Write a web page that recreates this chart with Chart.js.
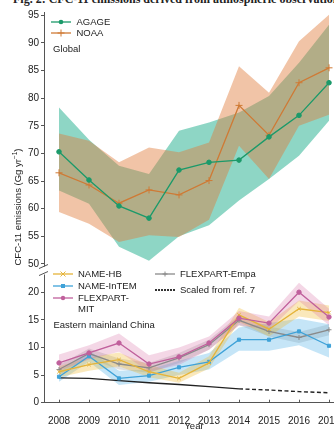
<!DOCTYPE html>
<html>
<head>
<meta charset="utf-8">
<script src="https://cdn.jsdelivr.net/npm/chart.js@4.4.0/dist/chart.umd.min.js"></script>
<style>
  html, body { margin: 0; padding: 0; background: #fff; overflow: hidden; }
  body { width: 334px; height: 431px; position: relative; font-family: 'Liberation Sans', Arial, sans-serif; color: #222; }
  #wrap { position: absolute; left: 0; top: 0; width: 350px; height: 431px; }
  #figtitle { position: absolute; left: 13px; top: -7px; font: bold 12px 'Liberation Serif', serif; line-height: 12px; white-space: nowrap; color: #222; }
  #ytitle { position: absolute; left: 16.5px; top: 207px; transform: translate(-50%, -50%) rotate(-90deg); font-size: 9.5px; white-space: nowrap; }
  #ytitle sup { font-size: 6.5px; }
  .lbl { position: absolute; font-size: 9.5px; line-height: 1; white-space: nowrap; transform: translateY(-50%); }
  .sym { position: absolute; width: 20px; height: 8px; transform: translateY(-50%); }
</style>
</head>
<body>
<div id="figtitle">Fig. 2: CFC-11 emissions derived from atmospheric observations.</div>
<div id="wrap"><canvas id="chart" width="350" height="431"></canvas></div>
<div id="ytitle">CFC-11 emissions (Gg yr<sup>−1</sup>)</div>

<!-- global legend -->
<svg class="sym" style="left:51px;top:22.3px" viewBox="0 0 20 8"><line x1="0" y1="4" x2="20" y2="4" stroke="#1b9a6a" stroke-width="1.3"/><circle cx="10" cy="4" r="2.3" fill="#1b9a6a"/></svg>
<div class="lbl" style="left:76.5px;top:22.3px">AGAGE</div>
<svg class="sym" style="left:51px;top:33.3px" viewBox="0 0 20 8"><line x1="0" y1="4" x2="20" y2="4" stroke="#cf7a35" stroke-width="1.3"/><path d="M6.5 4H13.5M10 0.5V7.5" stroke="#cf7a35" stroke-width="1"/></svg>
<div class="lbl" style="left:76.5px;top:33.3px">NOAA</div>
<div class="lbl" style="left:53px;top:48.5px">Global</div>

<!-- china legend -->
<svg class="sym" style="left:53px;top:274px" viewBox="0 0 20 8"><line x1="0" y1="4" x2="20" y2="4" stroke="#e5b43a" stroke-width="1.3"/><path d="M7.5 1.5L12.5 6.5M12.5 1.5L7.5 6.5" stroke="#e5b43a" stroke-width="1"/></svg>
<div class="lbl" style="left:78px;top:274px">NAME-HB</div>
<svg class="sym" style="left:53px;top:285.5px" viewBox="0 0 20 8"><line x1="0" y1="4" x2="20" y2="4" stroke="#3fa2d8" stroke-width="1.3"/><rect x="8" y="2" width="4" height="4" fill="#3fa2d8"/></svg>
<div class="lbl" style="left:78px;top:285.5px">NAME-InTEM</div>
<svg class="sym" style="left:53px;top:298px" viewBox="0 0 20 8"><line x1="0" y1="4" x2="20" y2="4" stroke="#c0609c" stroke-width="1.3"/><circle cx="10" cy="4" r="2.2" fill="#c0609c"/></svg>
<div class="lbl" style="left:78px;top:298px">FLEXPART-</div>
<div class="lbl" style="left:78px;top:309.3px">MIT</div>
<svg class="sym" style="left:155px;top:274px" viewBox="0 0 20 8"><line x1="0" y1="4" x2="20" y2="4" stroke="#8a8a8a" stroke-width="1.3"/><path d="M7.5 4H12.5M10 1.5V6.5" stroke="#8a8a8a" stroke-width="1"/></svg>
<div class="lbl" style="left:180px;top:274px">FLEXPART-Empa</div>
<svg class="sym" style="left:155px;top:290px" viewBox="0 0 20 8"><line x1="0" y1="4" x2="20" y2="4" stroke="#333" stroke-width="2" stroke-dasharray="2 1"/></svg>
<div class="lbl" style="left:180px;top:290px">Scaled from ref. 7</div>
<div class="lbl" style="left:53.5px;top:325px">Eastern mainland China</div>

<script>
const years = ['2008', '2009', '2010', '2011', '2012', '2013', '2014', '2015', '2016', '2017'];
const topTicks = [50, 55, 60, 65, 70, 75, 80, 85, 90, 95];
const bottomTicks = [0, 5, 10, 15, 20];

// global emissions
const agage   = [70.3, 65.2, 60.5, 58.3, 67.0, 68.4, 68.8, 73.0, 76.9, 82.8];
const agageHi = [78.3, 72.5, 67.8, 66.3, 74.1, 75.6, 77.4, 80.4, 86.4, 93.3];
const agageLo = [63.3, 60.9, 53.1, 50.6, 55.0, 57.0, 61.5, 65.4, 69.6, 75.9];
const noaa    = [66.5, 64.3, 61.0, 63.4, 62.5, 65.1, 78.7, 73.3, 82.8, 85.5];
const noaaHi  = [73.6, 72.3, 68.4, 71.1, 70.2, 72.0, 85.8, 81.0, 90.3, 95.1];
const noaaLo  = [59.4, 57.3, 54.0, 55.2, 54.9, 58.0, 71.4, 65.4, 75.0, 77.0];

// eastern mainland China
const nameHB     = [5.6, 6.9, 7.8, 5.6, 4.4, 7.2, 15.9, 13.3, 17.0, 16.3];
const nameHBHi   = [6.6, 8.2, 9.1, 6.8, 5.4, 8.4, 17.2, 14.6, 18.5, 17.6];
const nameHBLo   = [4.6, 5.8, 6.6, 4.6, 3.6, 6.2, 14.6, 12.0, 15.6, 14.8];
const intem      = [4.7, 8.4, 4.4, 4.9, 6.4, 7.4, 11.4, 11.4, 12.9, 10.3];
const intemHi    = [5.6, 9.4, 5.8, 6.0, 7.6, 9.0, 13.6, 14.4, 15.2, 14.2];
const intemLo    = [3.8, 7.4, 3.2, 3.8, 5.0, 6.0, 9.4, 9.4, 10.4, 8.2];
const mit        = [7.2, 9.0, 10.8, 7.0, 8.3, 10.8, 15.3, 14.4, 20.0, 15.5];
const mitHi      = [8.7, 10.4, 12.5, 8.6, 10.0, 12.0, 16.6, 15.6, 21.7, 17.0];
const mitLo      = [5.8, 7.8, 9.2, 5.6, 6.8, 9.6, 14.0, 13.2, 18.4, 14.0];
const empa       = [6.0, 8.9, 7.0, 6.3, 8.1, 10.5, 14.9, 12.9, 11.8, 13.2];
const empaHi     = [6.8, 9.8, 8.0, 7.2, 9.0, 11.4, 15.8, 13.8, 12.8, 14.2];
const empaLo     = [5.0, 8.0, 6.0, 5.4, 7.2, 9.6, 14.0, 12.0, 10.8, 12.2];
const scaledRef7 = [4.5, 4.4, 4.0, 3.6, 3.3, 2.9, 2.5, 2.3, 2.0, 1.8];

Chart.defaults.font.family = "'Liberation Sans', Arial, sans-serif";
Chart.defaults.font.size = 10;
Chart.defaults.color = '#222';

function line(data, color, style, radius, axis) {
  return {
    data, yAxisID: axis, borderColor: color, backgroundColor: color,
    borderWidth: 1.3, pointStyle: style, pointRadius: radius,
    pointBorderWidth: 1, pointHoverRadius: radius, fill: false
  };
}

function band(hi, lo, color, axis) {
  return [
    { data: hi, yAxisID: axis, borderWidth: 0, pointRadius: 0, backgroundColor: color, fill: '+1' },
    { data: lo, yAxisID: axis, borderWidth: 0, pointRadius: 0, fill: false }
  ];
}

const extras = {
  id: 'extras',
  afterDraw(chart) {
    const { ctx, scales: { x, yTop } } = chart;
    ctx.save();
    ctx.strokeStyle = '#555';
    ctx.lineWidth = 1;
    // small inward ticks on the year axis
    years.forEach((_, i) => {
      const px = Math.round(x.getPixelForValue(i)) + 0.5;
      ctx.beginPath();
      ctx.moveTo(px, x.top);
      ctx.lineTo(px, x.top - 3);
      ctx.stroke();
    });
    // axis break marks
    const xb = yTop.right, yb = yTop.bottom;
    ctx.fillStyle = '#fff';
    ctx.fillRect(xb - 2, yb - 3, 4, 8);
    ctx.beginPath();
    ctx.moveTo(xb - 5, yb - 1); ctx.lineTo(xb + 4, yb - 5);
    ctx.moveTo(xb - 5, yb + 6); ctx.lineTo(xb + 4, yb + 2);
    ctx.stroke();
    ctx.restore();
  }
};

const yCommon = {
  type: 'linear', position: 'left', stack: 'y',
  grid: { drawOnChartArea: false, tickLength: 3, color: '#555' },
  border: { color: '#555' },
  ticks: { padding: 2, font: { size: 10 } },
  afterFit: s => { s.width = 44; }
};

new Chart(document.getElementById('chart'), {
  type: 'line',
  data: {
    labels: years,
    datasets: [
      line(agage, '#1b9a6a', 'circle', 2.3, 'yTop'),
      line(noaa, '#cf7a35', 'cross', 3.5, 'yTop'),
      line(mit, '#c0609c', 'circle', 2.2, 'yBot'),
      line(nameHB, '#e5b43a', 'crossRot', 2.5, 'yBot'),
      line(intem, '#3fa2d8', 'rect', 2.2, 'yBot'),
      line(empa, '#8a8a8a', 'cross', 2.5, 'yBot'),
      Object.assign(line(scaledRef7, '#222', 'circle', 0, 'yBot'), {
        borderWidth: 1.4,
        segment: { borderDash: c => (c.p0DataIndex >= 6 ? [4, 2.5] : undefined) }
      }),
      ...band(noaaHi, noaaLo, 'rgba(225,125,60,0.45)', 'yTop'),
      ...band(agageHi, agageLo, 'rgba(50,180,150,0.55)', 'yTop'),
      ...band(mitHi, mitLo, 'rgba(215,110,165,0.28)', 'yBot'),
      ...band(nameHBHi, nameHBLo, 'rgba(240,185,50,0.33)', 'yBot'),
      ...band(intemHi, intemLo, 'rgba(80,175,230,0.33)', 'yBot'),
      ...band(empaHi, empaLo, 'rgba(140,140,140,0.28)', 'yBot')
    ]
  },
  options: {
    responsive: false,
    animation: false,
    layout: { padding: { top: 12, left: 0, right: 6, bottom: 0 } },
    plugins: {
      legend: { display: false },
      tooltip: { enabled: false },
      filler: { drawTime: 'beforeDatasetsDraw' }
    },
    scales: {
      x: {
        type: 'category', offset: true,
        grid: { display: false },
        border: { color: '#555' },
        ticks: { padding: 5, maxRotation: 0, autoSkip: false, font: { size: 10 } },
        title: { display: true, text: 'Year', font: { size: 9.5, lineHeight: 1 }, padding: { top: 0, bottom: 0 } },
        afterFit: s => { s.height = 28.3; }
      },
      yBot: Object.assign({}, yCommon, {
        stackWeight: 24.1, min: 0, max: 24.1,
        afterBuildTicks: s => { s.ticks = bottomTicks.map(v => ({ value: v })); }
      }),
      yTop: Object.assign({}, yCommon, {
        stackWeight: 46.6, min: 49, max: 95.6,
        afterBuildTicks: s => { s.ticks = topTicks.map(v => ({ value: v })); }
      })
    }
  },
  plugins: [extras]
});
</script>
</body>
</html>
